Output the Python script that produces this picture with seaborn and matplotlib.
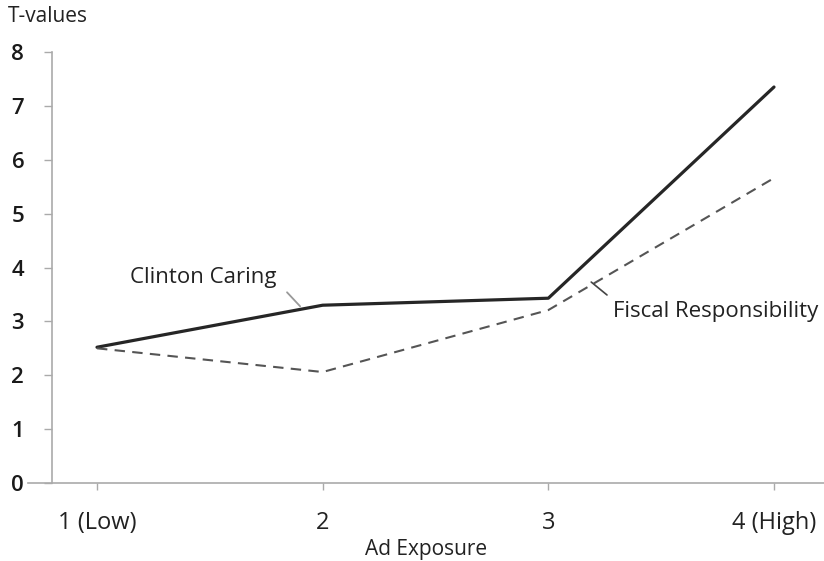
import matplotlib
matplotlib.use("Agg")
import matplotlib.pyplot as plt
import seaborn as sns
import pandas as pd

# Data
exposure = [1, 2, 3, 4]
exposure_labels = ["1 (Low)", "2", "3", "4 (High)"]
clinton_caring = [2.52, 3.30, 3.43, 7.35]
fiscal_resp = [2.50, 2.06, 3.21, 5.66]

data = pd.DataFrame({
    "Ad Exposure": exposure * 2,
    "T-values": clinton_caring + fiscal_resp,
    "Series": ["Clinton Caring"] * 4 + ["Fiscal Responsibility"] * 4,
})

sns.set_style("white")
plt.rcParams["font.family"] = ["Open Sans", "DejaVu Sans"]

fig = plt.figure(figsize=(8.24, 5.61), dpi=100)
ax = fig.add_axes([28 / 824, 1 - 483 / 561, 1 - 28 / 824, (483 - 52) / 561])

sns.lineplot(
    data=data[data["Series"] == "Clinton Caring"],
    x="Ad Exposure", y="T-values", color="#262626", linewidth=2.3, ax=ax,
)
sns.lineplot(
    data=data[data["Series"] == "Fiscal Responsibility"],
    x="Ad Exposure", y="T-values", color="#555555", linewidth=1.5, ax=ax,
)
ax.lines[1].set_dashes([5, 3.5])

ax.set_xlim(1 - 69 / 225.67, 4 + 50 / 225.67)
ax.set_ylim(0, 8)
ax.set_xticks(exposure)
ax.set_xticklabels(exposure_labels)
ax.set_yticks(range(0, 9))

for s in ["top", "right"]:
    ax.spines[s].set_visible(False)
ax.spines["left"].set_position(("data", 1 - 45 / 225.67))
for s in ["left", "bottom"]:
    ax.spines[s].set_color("#aaaaaa")
    ax.spines[s].set_linewidth(1.2)

ax.tick_params(axis="y", direction="out", length=6, width=1, color="#aaaaaa",
               pad=14, labelsize=16, labelcolor="#1a1a1a", left=True)
ax.tick_params(axis="x", direction="out", length=5, width=1, color="#aaaaaa",
               pad=15, labelsize=17, labelcolor="#222222", bottom=True)
for lbl in ax.get_yticklabels():
    lbl.set_fontweight("semibold")

ax.set_xlabel("Ad Exposure", fontsize=15, color="#222222", labelpad=3)
ax.set_ylabel("")
fig.text(8 / 824, 1 - 17 / 561, "T-values", fontsize=15, color="#222222",
         va="center", ha="left")

# labels and their short leader lines
ax.text(1.47, 3.82, "Clinton Caring", fontsize=16, color="#222222",
        ha="center", va="center")
ax.annotate("", xy=(1.90, 3.28), xytext=(1.842, 3.54),
            arrowprops=dict(arrowstyle="-", color="#999999", lw=1.3,
                            shrinkA=0, shrinkB=0))
ax.text(3.74, 3.19, "Fiscal Responsibility", fontsize=16, color="#222222",
        ha="center", va="center")
ax.annotate("", xy=(3.19, 3.73), xytext=(3.26, 3.49),
            arrowprops=dict(arrowstyle="-", color="#444444", lw=1.2,
                            shrinkA=0, shrinkB=0))

fig.savefig("out.png", dpi=100)
